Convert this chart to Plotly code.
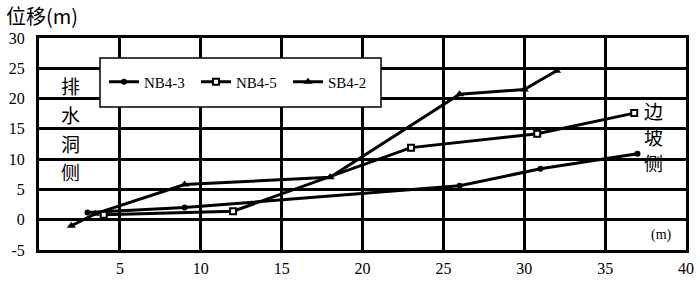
import plotly.graph_objects as go

# data
nb43_x = [3, 9, 26, 31, 37]
nb43_y = [1.2, 2.0, 5.6, 8.4, 10.9]
nb45_x = [4, 12, 23, 30.8, 36.8]
nb45_y = [0.8, 1.4, 11.9, 14.2, 17.6]
sb42_x = [2, 3.5, 9, 18, 26, 30, 32]
sb42_y = [-1.0, 1.0, 5.8, 7.0, 20.7, 21.5, 24.6]

x_ticks = [5, 10, 15, 20, 25, 30, 35, 40]
y_ticks = [-5, 0, 5, 10, 15, 20, 25, 30]

FONT = "Liberation Serif, Noto Sans CJK SC, serif"
CJK = "Noto Sans CJK SC, Liberation Serif"

fig = go.Figure()
fig.add_trace(go.Scatter(x=nb43_x, y=nb43_y, name="NB4-3", mode="lines+markers",
                         line=dict(color="black", width=3),
                         marker=dict(symbol="circle", size=6, color="black")))
fig.add_trace(go.Scatter(x=nb45_x, y=nb45_y, name="NB4-5", mode="lines+markers",
                         line=dict(color="black", width=3),
                         marker=dict(symbol="square", size=6, color="white",
                                     line=dict(color="black", width=2))))
fig.add_trace(go.Scatter(x=sb42_x, y=sb42_y, name="SB4-2", mode="lines+markers",
                         line=dict(color="black", width=3),
                         marker=dict(symbol="triangle-up", size=8, color="black")))

L, R, T, B = 39, 14, 38, 31
W, H = 700, 281
pw, ph = W - L - R, H - T - B

def px(xp):
    return (xp - L) / pw

def py(yp):
    return (H - B - yp) / ph

fig.update_layout(
    width=W, height=H,
    margin=dict(l=L, r=R, t=T, b=B, pad=0, autoexpand=False),
    paper_bgcolor="white", plot_bgcolor="white",
    font=dict(family=FONT, size=15, color="black"),
    showlegend=True,
    legend=dict(orientation="h", x=px(104), y=py(82), xanchor="left", yanchor="middle",
                bgcolor="rgba(0,0,0,0)", borderwidth=0,
                font=dict(family=FONT, size=15, color="black"),
                entrywidth=47, entrywidthmode="pixels", itemwidth=30),
    xaxis=dict(range=[0, 40], tickvals=x_ticks, ticktext=[str(v) for v in x_ticks],
               showgrid=True, gridcolor="black", gridwidth=3,
               showline=True, linecolor="black", linewidth=3, mirror=True,
               zeroline=False, ticks="", ticklabelstandoff=2, automargin=False,
               tickfont=dict(family=FONT, size=16)),
    yaxis=dict(range=[-5, 30], tickvals=y_ticks, ticktext=[str(v) for v in y_ticks],
               showgrid=True, gridcolor="black", gridwidth=3,
               showline=True, linecolor="black", linewidth=3, mirror=True,
               zeroline=False, ticks="", ticklabelstandoff=8, automargin=False,
               tickfont=dict(family=FONT, size=16)),
)

# legend box
fig.add_shape(type="rect", xref="paper", yref="paper",
              x0=px(100), x1=px(381), y0=py(107), y1=py(58),
              line=dict(color="black", width=1.5), fillcolor="white", layer="above")

# y axis title
fig.add_annotation(text="位移(m)", xref="paper", yref="paper", x=px(4), y=py(15),
                   xanchor="left", yanchor="middle", showarrow=False,
                   font=dict(family=CJK, size=20, color="black"))
# unit at lower right
fig.add_annotation(text="(m)", xref="paper", yref="paper", x=px(661), y=py(235),
                   xanchor="center", yanchor="middle", showarrow=False,
                   font=dict(family=FONT, size=14, color="black"))

left_chars = ["排", "水", "洞", "侧"]
left_ys = [85, 114, 143, 171]
for ch, yy in zip(left_chars, left_ys):
    fig.add_annotation(text=ch, xref="paper", yref="paper", x=px(70), y=py(yy),
                       xanchor="center", yanchor="middle", showarrow=False,
                       font=dict(family=CJK, size=19, color="black"))
right_chars = ["边", "坡", "侧"]
right_ys = [110, 136, 162]
for ch, yy in zip(right_chars, right_ys):
    fig.add_annotation(text=ch, xref="paper", yref="paper", x=px(653), y=py(yy),
                       xanchor="center", yanchor="middle", showarrow=False,
                       font=dict(family=CJK, size=19, color="black"))

fig.write_html("out.html")
